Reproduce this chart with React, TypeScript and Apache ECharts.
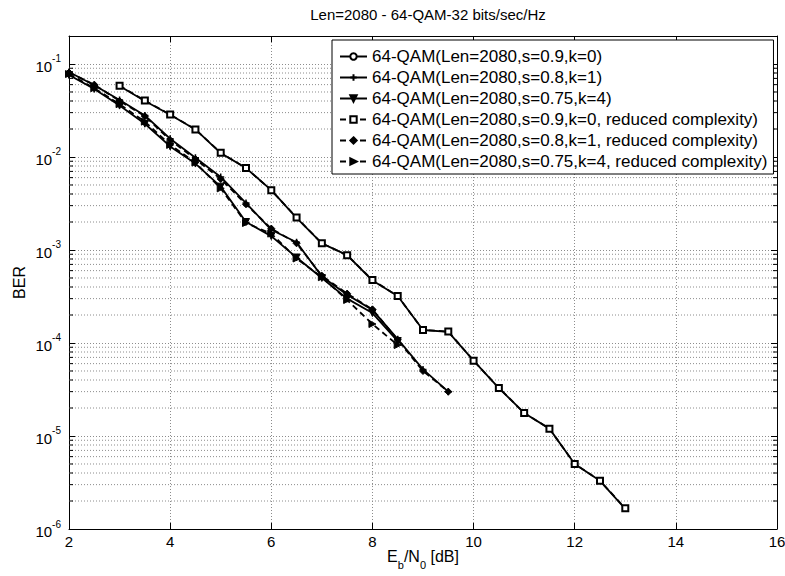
import React, { useEffect, useRef } from "react";
import * as echarts from "echarts";

const FONT = "'Liberation Sans', Arial, Helvetica, sans-serif";

const titleText = "Len=2080 - 64-QAM-32 bits/sec/Hz";
const seriesNames = [
  "64-QAM(Len=2080,s=0.9,k=0)",
  "64-QAM(Len=2080,s=0.8,k=1)",
  "64-QAM(Len=2080,s=0.75,k=4)",
  "64-QAM(Len=2080,s=0.9,k=0, reduced complexity)",
  "64-QAM(Len=2080,s=0.8,k=1, reduced complexity)",
  "64-QAM(Len=2080,s=0.75,k=4, reduced complexity)",
];

const snrA = [3, 3.5, 4, 4.5, 5, 5.5, 6, 6.5, 7, 7.5, 8, 8.5, 9, 9.5, 10, 10.5, 11, 11.5, 12, 12.5, 13];
const snrB = [2, 2.5, 3, 3.5, 4, 4.5, 5, 5.5, 6, 6.5, 7, 7.5, 8, 8.5, 9, 9.5];
const snrC = [2, 2.5, 3, 3.5, 4, 4.5, 5, 5.5, 6, 6.5, 7, 7.5, 8, 8.5];

const berS09 = [0.058, 0.04, 0.0285, 0.0198, 0.011, 0.0076, 0.0044, 0.00222, 0.00118, 0.00088, 0.00047, 0.00032, 0.000138, 0.000132, 0.0000645, 0.0000328, 0.0000177, 0.000012, 0.000005, 0.0000033, 0.00000165];
const berS08 = [0.082, 0.059, 0.041, 0.028, 0.0157, 0.0098, 0.0061, 0.0032, 0.00165, 0.00121, 0.00052, 0.00033, 0.000227, 0.00011, 0.000052, 0.00003];
const berS075 = [0.076, 0.054, 0.0357, 0.0228, 0.013, 0.0085, 0.0048, 0.002, 0.00141, 0.00083, 0.0005, 0.0003, 0.00021, 0.000105];
const berS09r = [0.0585, 0.0404, 0.0286, 0.0198, 0.0111, 0.0076, 0.00439, 0.00223, 0.00118, 0.00088, 0.000475, 0.00032, 0.000138, 0.000133, 0.0000646, 0.0000329, 0.0000177, 0.000012, 0.000005, 0.0000033, 0.00000167];
const berS08r = [0.081, 0.06, 0.04, 0.0275, 0.0152, 0.0095, 0.0058, 0.0031, 0.0017, 0.00118, 0.00053, 0.00034, 0.00023, 0.000108, 0.00005, 0.00003];
const berS075r = [0.078, 0.055, 0.037, 0.024, 0.0135, 0.0087, 0.0046, 0.00195, 0.0015, 0.00081, 0.00051, 0.00029, 0.00016, 0.000095];

const xTicks = { min: 2, max: 16, interval: 2 };
const yRange = { min: 1e-6, max: 0.2 };
const minorMultipliers = [2, 3, 4, 5, 6, 7, 8, 9];
const decades = [-6, -5, -4, -3, -2];

const zip = (xs: number[], ys: number[]) => xs.map((x, i) => [x, ys[i]]);

const minorValues: number[] = [];
decades.forEach((d) => minorMultipliers.forEach((m) => minorValues.push(m * Math.pow(10, d))));

const plusPath = "path://M5,0L5,10M0,5L10,5";
const GRID_COLOR = "#8c8c8c";
const DOT = [1, 2];

function mkSeries(name: string, xs: number[], ys: number[], opts: any) {
  return {
    name,
    type: "line",
    xAxisIndex: 0,
    yAxisIndex: 0,
    data: zip(xs, ys),
    symbol: opts.symbol,
    symbolSize: opts.size,
    symbolRotate: opts.rotate || 0,
    showAllSymbol: true,
    lineStyle: { color: "#000", width: 1.8, type: opts.dashed ? [6, 4] : "solid" },
    itemStyle: { color: opts.fill, borderColor: "#000", borderWidth: opts.bw },
    emphasis: { disabled: true },
    z: opts.z,
  };
}

export default function App() {
  const ref = useRef<HTMLDivElement>(null);
  useEffect(() => {
    const chart = echarts.init(ref.current!, null, { renderer: "svg" });
    const gridLine = { show: true, lineStyle: { type: DOT, color: GRID_COLOR, width: 1 } };
    const option: any = {
      animation: false,
      backgroundColor: "#fff",
      textStyle: { fontFamily: FONT },
      title: {
        text: titleText,
        left: 423,
        textAlign: "center",
        top: 2,
        textStyle: { fontFamily: FONT, fontSize: 15, fontWeight: "normal", color: "#000" },
      },
      grid: { left: 69, right: 8, top: 36, bottom: 47, containLabel: false, outerBoundsMode: "none" },
      legend: {
        data: seriesNames,
        orient: "vertical",
        left: 332,
        top: 40,
        itemWidth: 27,
        itemHeight: 8,
        itemGap: 4,
        padding: [8, 6, 4, 7],
        backgroundColor: "#fff",
        borderColor: "#000",
        borderWidth: 1,
        borderRadius: 0,
        textStyle: { fontFamily: FONT, fontSize: 17, color: "#000", lineHeight: 16 },
        selectedMode: false,
      },
      xAxis: [
        {
          type: "value",
          min: xTicks.min,
          max: xTicks.max,
          interval: xTicks.interval,
          name: "{m|E}{sub|b}{m|/N}{sub|0}{m| [dB]}",
          nameLocation: "middle",
          nameGap: 19,
          nameMoveOverlap: false,
          nameTextStyle: {
            rich: {
              m: { fontFamily: FONT, fontSize: 16, color: "#000", lineHeight: 16, verticalAlign: "top" },
              sub: { fontFamily: FONT, fontSize: 11, color: "#000", lineHeight: 22, verticalAlign: "bottom" },
            },
          },
          axisLine: { show: true, lineStyle: { color: "#000", width: 1 } },
          axisTick: { show: true, inside: true, length: 6, lineStyle: { color: "#000" } },
          axisLabel: { fontFamily: FONT, fontSize: 15, color: "#000", margin: 5 },
          splitLine: gridLine,
        },
        {
          type: "value",
          position: "top",
          min: xTicks.min,
          max: xTicks.max,
          interval: xTicks.interval,
          axisLine: { show: true, lineStyle: { color: "#000", width: 1 } },
          axisTick: { show: true, inside: true, length: 6, lineStyle: { color: "#000" } },
          axisLabel: { show: false },
          splitLine: { show: false },
        },
      ],
      yAxis: [
        {
          type: "log",
          logBase: 10,
          min: yRange.min,
          max: yRange.max,
          name: "BER",
          nameLocation: "middle",
          nameGap: 42,
          nameMoveOverlap: false,
          nameTextStyle: { fontFamily: FONT, fontSize: 16, color: "#000" },
          axisLine: { show: true, lineStyle: { color: "#000", width: 1 } },
          axisTick: { show: true, inside: true, length: 6, lineStyle: { color: "#000" } },
          axisLabel: {
            margin: 8,
            formatter: (v: number) => {
              const e = Math.log10(v);
              const r = Math.round(e);
              if (Math.abs(e - r) > 1e-6) return "";
              return `{b|10}{s|${r}}`;
            },
            rich: {
              b: { fontFamily: FONT, fontSize: 15, color: "#000", lineHeight: 20, verticalAlign: "bottom" },
              s: { fontFamily: FONT, fontSize: 10, color: "#000", lineHeight: 20, verticalAlign: "top" },
            },
          },
          splitLine: gridLine,
        },
        {
          type: "log",
          logBase: 10,
          min: yRange.min,
          max: yRange.max,
          position: "right",
          axisLine: { show: true, lineStyle: { color: "#000", width: 1 } },
          axisTick: { show: true, inside: true, length: 6, lineStyle: { color: "#000" } },
          axisLabel: { show: false },
          splitLine: { show: false },
        },
      ],
      series: [
        {
          type: "custom",
          xAxisIndex: 0,
          yAxisIndex: 0,
          silent: true,
          z: 1,
          data: minorValues.map((v) => [xTicks.min, v]),
          renderItem: (params: any, api: any) => {
            const v = api.value(1);
            const p1 = api.coord([xTicks.min, v]);
            const p2 = api.coord([xTicks.max, v]);
            return {
              type: "group",
              children: [
                {
                  type: "line",
                  shape: { x1: p1[0], y1: p1[1], x2: p2[0], y2: p2[1] },
                  style: { stroke: GRID_COLOR, lineWidth: 1, lineDash: DOT, fill: null },
                },
                {
                  type: "line",
                  shape: { x1: p1[0], y1: p1[1], x2: p1[0] + 4, y2: p1[1] },
                  style: { stroke: "#000", lineWidth: 1, fill: null },
                },
                {
                  type: "line",
                  shape: { x1: p2[0] - 4, y1: p2[1], x2: p2[0], y2: p2[1] },
                  style: { stroke: "#000", lineWidth: 1, fill: null },
                },
              ],
            };
          },
        },
        mkSeries(seriesNames[0], snrA, berS09, { symbol: "circle", size: 4, fill: "#fff", bw: 1.2, z: 3 }),
        mkSeries(seriesNames[1], snrB, berS08, { symbol: plusPath, size: 7, fill: "#000", bw: 1.5, z: 3 }),
        mkSeries(seriesNames[2], snrC, berS075, { symbol: "triangle", rotate: 180, size: 7, fill: "#000", bw: 1, z: 3 }),
        mkSeries(seriesNames[3], snrA, berS09r, { symbol: "rect", size: 6, fill: "#fff", bw: 2, dashed: true, z: 4 }),
        mkSeries(seriesNames[4], snrB, berS08r, { symbol: "diamond", size: 7, fill: "#000", bw: 1, dashed: true, z: 4 }),
        mkSeries(seriesNames[5], snrC, berS075r, { symbol: "triangle", rotate: -90, size: 7, fill: "#000", bw: 1, dashed: true, z: 4 }),
      ],
    };
    chart.setOption(option);
    return () => chart.dispose();
  }, []);
  return <div ref={ref} style={{ position: "absolute", left: 0, top: 0, width: 785, height: 576 }} />;
}
